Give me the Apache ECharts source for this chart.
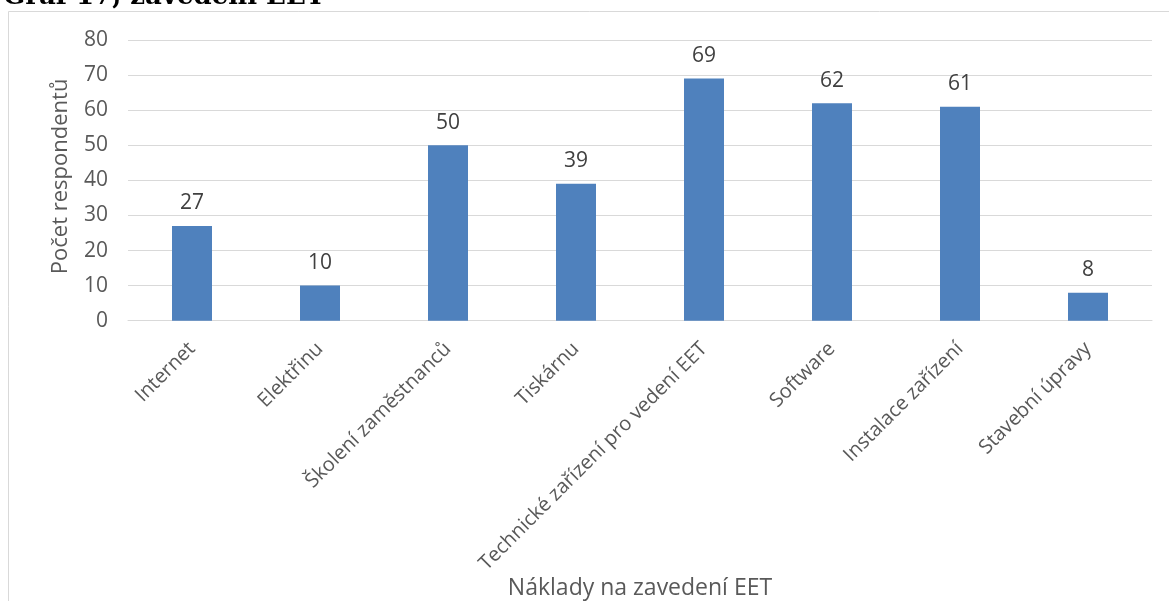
<!DOCTYPE html>
<html>
<head>
<meta charset="utf-8">
<script src="https://cdn.jsdelivr.net/npm/echarts@6/dist/echarts.min.js"></script>
<style>
html,body{margin:0;padding:0;background:#fff;}
#chart{width:1169px;height:601px;}
</style>
</head>
<body>
<div id="chart"></div>
<script>
var categories = ["Internet", "Elektřinu", "Školení zaměstnanců", "Tiskárnu", "Technické zařízení pro vedení EET", "Software", "Instalace zařízení", "Stavební úpravy"];
var values = [27, 10, 50, 39, 69, 62, 61, 8];
var titleText = "Graf 17, zavedení EET";
var xAxisName = "Náklady na zavedení EET";
var yAxisName = "Počet respondentů";

var font = "'Open Sans', 'Noto Sans', sans-serif";
var chart = echarts.init(document.getElementById('chart'));
chart.setOption({
  animation: false,
  backgroundColor: '#ffffff',
  grid: {left: 128, right: 17, top: 40, bottom: 280, containLabel: false},
  graphic: [
    {type: 'rect', z: -1, shape: {x: 8.5, y: 11.5, width: 1200, height: 700},
     style: {fill: 'none', stroke: '#d9d9d9', lineWidth: 1}},
    {type: 'text', left: 3, top: -16,
     style: {text: titleText, font: 'bold 26px "DejaVu Serif", serif', fill: '#000'}}
  ],
  xAxis: {
    type: 'category',
    data: categories,
    name: xAxisName,
    nameLocation: 'middle',
    nameGap: 254,
    nameTextStyle: {fontFamily: font, fontSize: 23, color: '#595959'},
    axisLine: {show: true, lineStyle: {color: '#d9d9d9', width: 1}},
    axisTick: {show: false},
    axisLabel: {rotate: 45, interval: 0, margin: 25, fontFamily: font, fontSize: 20, color: '#595959'}
  },
  yAxis: {
    type: 'value',
    min: 0, max: 80, interval: 10,
    name: yAxisName,
    nameLocation: 'middle',
    nameGap: 56,
    nameTextStyle: {fontFamily: font, fontSize: 22, color: '#595959', padding: [0, 0, 0, 8]},
    axisLine: {show: false},
    axisTick: {show: false},
    axisLabel: {margin: 20, fontFamily: font, fontSize: 21, color: '#595959'},
    splitLine: {lineStyle: {color: '#d9d9d9', width: 1}}
  },
  series: [{
    type: 'bar',
    data: values,
    barWidth: 40,
    itemStyle: {color: '#4f81bd'},
    label: {show: true, position: 'top', distance: 12, fontFamily: font, fontSize: 21, color: '#404040'}
  }]
});
</script>
</body>
</html>
